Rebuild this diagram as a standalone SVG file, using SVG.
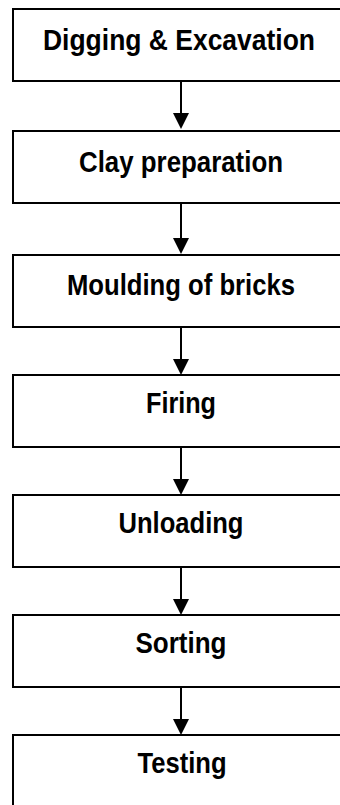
<svg xmlns="http://www.w3.org/2000/svg" width="340" height="805" viewBox="0 0 340 805">
<style>
.box{fill:#fff;stroke:#000;stroke-width:2}
.lbl{font-family:"Liberation Sans",Arial,sans-serif;font-weight:bold;font-size:29px;fill:#000;text-anchor:middle}
.ln{stroke:#000;stroke-width:2;fill:none}
.ah{fill:#000}
</style>
<rect width="340" height="805" fill="#fff"/>
<g id="connectors">
<line class="ln" x1="181" y1="81" x2="181" y2="116"/><polygon class="ah" points="173,113 189,113 181,129"/>
<line class="ln" x1="181" y1="203" x2="181" y2="240"/><polygon class="ah" points="173,238 189,238 181,254"/>
<line class="ln" x1="181" y1="327" x2="181" y2="362"/><polygon class="ah" points="173,359 189,359 181,375"/>
<line class="ln" x1="181" y1="447" x2="181" y2="482"/><polygon class="ah" points="173,479 189,479 181,495"/>
<line class="ln" x1="181" y1="567" x2="181" y2="602"/><polygon class="ah" points="173,599 189,599 181,615"/>
<line class="ln" x1="181" y1="687" x2="181" y2="722"/><polygon class="ah" points="173,719 189,719 181,735"/>
</g>
<g id="n1"><rect class="box" x="13" y="9" width="340" height="72"/><text class="lbl" x="179" y="50" textLength="272" lengthAdjust="spacingAndGlyphs">Digging &amp; Excavation</text></g>
<g id="n2"><rect class="box" x="13" y="131" width="340" height="72"/><text class="lbl" x="181" y="172" textLength="204" lengthAdjust="spacingAndGlyphs">Clay preparation</text></g>
<g id="n3"><rect class="box" x="13" y="255" width="340" height="72"/><text class="lbl" x="181" y="295" textLength="228" lengthAdjust="spacingAndGlyphs">Moulding of bricks</text></g>
<g id="n4"><rect class="box" x="13" y="375" width="340" height="72"/><text class="lbl" x="181" y="413" textLength="70" lengthAdjust="spacingAndGlyphs">Firing</text></g>
<g id="n5"><rect class="box" x="13" y="495" width="340" height="72"/><text class="lbl" x="181" y="533" textLength="125" lengthAdjust="spacingAndGlyphs">Unloading</text></g>
<g id="n6"><rect class="box" x="13" y="615" width="340" height="72"/><text class="lbl" x="181" y="653" textLength="91" lengthAdjust="spacingAndGlyphs">Sorting</text></g>
<g id="n7"><rect class="box" x="13" y="735" width="340" height="80"/><text class="lbl" x="182" y="773" textLength="89" lengthAdjust="spacingAndGlyphs">Testing</text></g>
</svg>
